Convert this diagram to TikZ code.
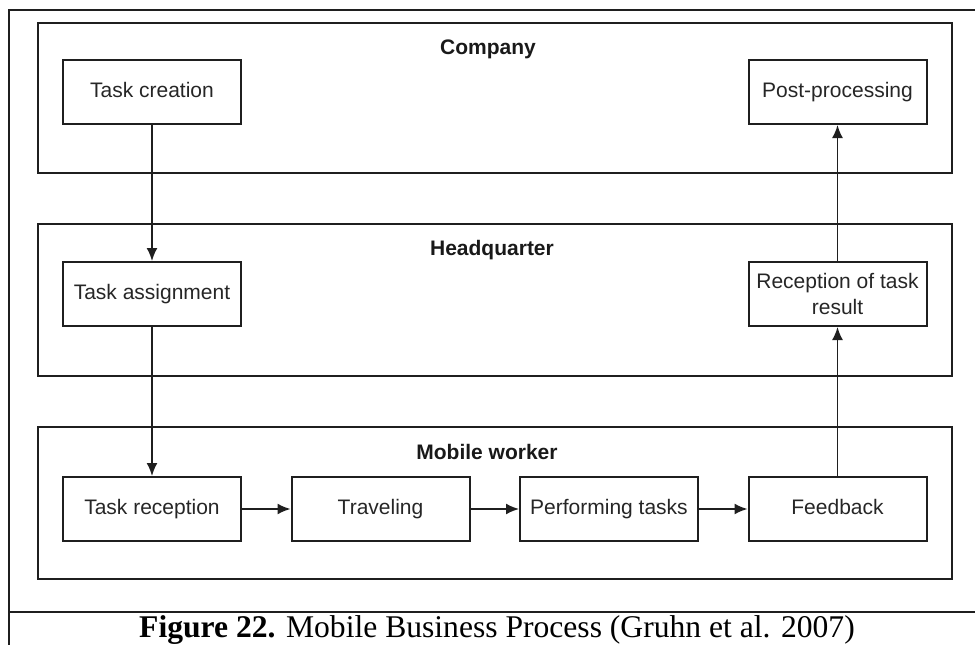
\documentclass[tikz,border=0pt]{standalone}
\usepackage{fontspec}
\setmainfont{Liberation Serif}
\newfontfamily\diagfont{Liberation Sans}
\usetikzlibrary{arrows.meta}
\begin{document}
\begin{tikzpicture}[x=1pt,y=-1pt,
  lane/.style={draw=black!88,line width=2pt},
  taskbox/.style={draw=black!88,line width=2pt,minimum width=178pt,minimum height=64pt,inner sep=0pt,align=center,
    font=\diagfont\fontsize{21}{26}\selectfont,text=black!85},
  oneline/.style={text height=15pt,text depth=4pt},
  lanelabel/.style={font=\diagfont\bfseries\fontsize{21}{24}\selectfont,text=black!90},
  flow/.style={draw=black!88,line width=1.8pt,-{Latex[length=13pt,width=11pt]}}]
\useasboundingbox (0,0) rectangle (975,645);
% outer frame
\draw[line width=2.6pt,black!88] (986,10) -- (9,10) -- (9,660);
\draw[line width=2.6pt,black!88] (9,612) -- (986,612);
% lanes
\draw[lane] (37.7,22.7) rectangle (951.7,173);
\draw[lane] (37.7,224.3) rectangle (951.7,375.7);
\draw[lane] (37.7,426.7) rectangle (951.7,579);
\node[lanelabel] (lc) at (488,49) {Company};
\node[lanelabel] (lh) at (492,250) {Headquarter};
\node[lanelabel] (lm) at (487,452) {Mobile worker};
% tasks
\node[taskbox,oneline] (tc) at (152,92) {Task creation};
\node[taskbox,oneline] (pp) at (837.5,92) {Post-processing};
\node[taskbox,oneline] (ta) at (152,294) {Task assignment};
\node[taskbox] (rr) at (837.5,294) {Reception of task\\result};
\node[taskbox,oneline] (tr) at (152,509) {Task reception};
\node[taskbox,oneline] (tv) at (380.5,509) {Traveling};
\node[taskbox,oneline] (pt) at (609,509) {Performing tasks};
\node[taskbox,oneline] (fb) at (837.5,509) {Feedback};
% connectors
\draw[flow] (tc) -- (ta);
\draw[flow] (ta) -- (tr);
\draw[flow] (tr) -- (tv);
\draw[flow] (tv) -- (pt);
\draw[flow] (pt) -- (fb);
\draw[flow] (fb) -- (rr);
\draw[flow] (rr) -- (pp);
% caption
\node[font=\fontsize{31.6}{34}\selectfont,anchor=base,inner sep=0pt] (cap) at (497,637) {\textbf{Figure 22.} Mobile Business Process (Gruhn et al. 2007)};
\end{tikzpicture}
\end{document}
